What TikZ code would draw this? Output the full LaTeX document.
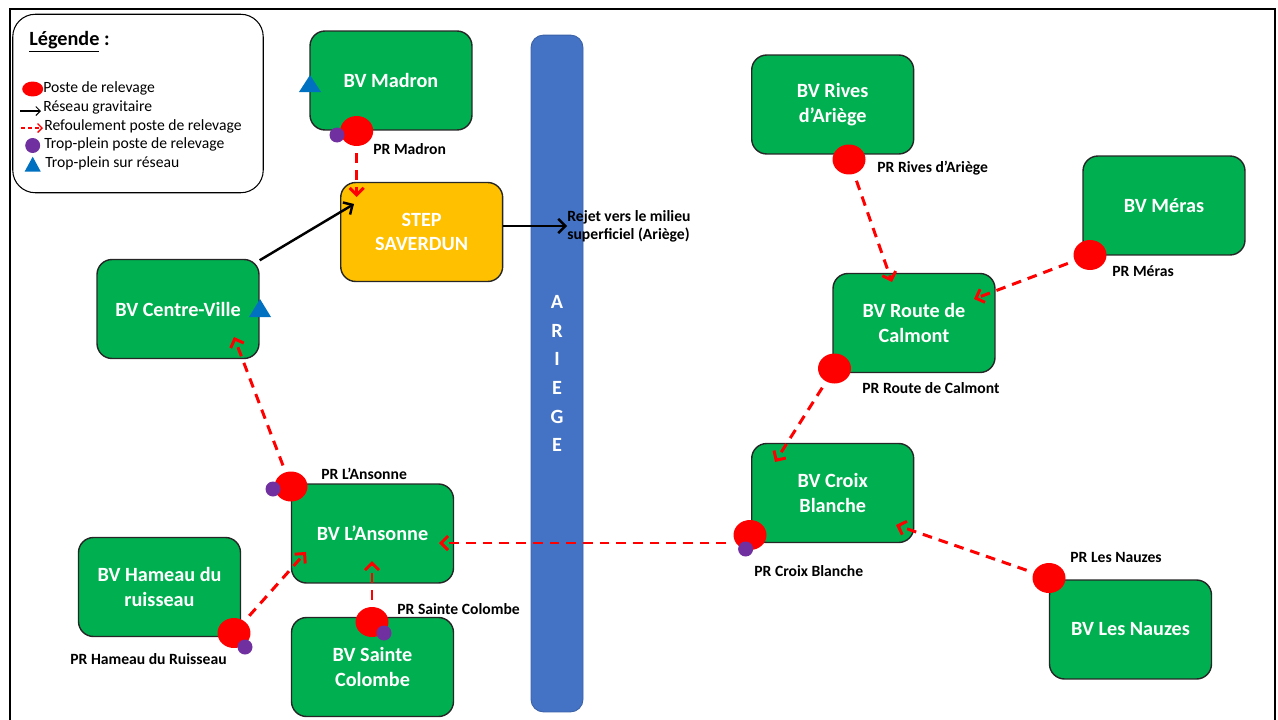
\documentclass[tikz,border=0pt]{standalone}
\usepackage{fontspec}
\setmainfont{Carlito}
\usetikzlibrary{shapes.geometric, arrows.meta}

\definecolor{bvgreen}{HTML}{00B050}
\definecolor{steporange}{HTML}{FFC000}
\definecolor{riverblue}{HTML}{4472C4}
\definecolor{prred}{HTML}{FF0000}
\definecolor{tppurple}{HTML}{7030A0}
\definecolor{tpblue}{HTML}{0070C0}

\newcommand{\bvfont}{\fontsize{11.5}{14}\selectfont\bfseries}
\newcommand{\prfont}{\fontsize{8.9}{10.5}\selectfont\bfseries}
\newcommand{\legfont}{\fontsize{8.9}{10.5}\selectfont}

\begin{document}
\begin{tikzpicture}
	[x=0.02cm, y=-0.02cm,
	bv/.style={rectangle, rounded corners=0.3cm, draw=black!85, line width=0.8pt, fill=bvgreen, text=white, font=\bvfont, align=center, minimum width=3.24cm, minimum height=1.98cm},
	stepBox/.style={bv, fill=steporange},
	river/.style={rectangle, rounded corners=0.25cm, draw=riverblue!85!black, line width=0.5pt, fill=riverblue, text=white, font=\fontsize{11.5}{16.3}\selectfont\bfseries, align=center, minimum width=1.04cm, minimum height=13.54cm},
	pr/.style={ellipse, fill=prred, inner sep=0pt, minimum width=0.66cm, minimum height=0.6cm},
	tp/.style={circle, fill=tppurple, inner sep=0pt, minimum size=0.3cm},
	prLabel/.style={anchor=west, inner sep=0pt, font=\prfont},
	legText/.style={anchor=west, inner sep=0pt, font=\legfont},
	refoul/.style={-{Straight Barb[length=4pt,width=8pt]}, prred, line width=1.7pt, dash pattern=on 5.5pt off 4pt, shorten <=4pt},
	gravit/.style={-{Straight Barb[length=4pt,width=8pt]}, black, line width=1.4pt}]
	
	\useasboundingbox (0,0) rectangle (1278,720);
	\draw[line width=1.2pt] (10,720) -- (10,9) -- (1275,9) -- (1275,720);
	
	% legend
	\node (legend) at ( 138,103.5 ) [rectangle, rounded corners=0.45cm, draw, line width=0.6pt, minimum width=5.01cm, minimum height=3.57cm] {};
	\node (title) at ( 29,42 ) [anchor=west, inner sep=0pt, font=\bvfont] {\underline{Légende} :};
	\node (lpr) at ( 32.7,89 ) [pr, minimum width=0.42cm, minimum height=0.3cm] {};
	\node (ltxt1) at ( 43,88 ) [legText] {Poste de relevage};
	\coordinate (lg1) at ( 20,111 );
	\coordinate (lg2) at ( 41,111 );
	\node (ltxt2) at ( 43,107 ) [legText] {Réseau gravitaire};
	\coordinate (lr1) at ( 21,128 );
	\coordinate (lr2) at ( 43,128 );
	\node (ltxt3) at ( 44,126 ) [legText] {Refoulement poste de relevage};
	\node (ltp) at ( 32.7,145.5 ) [tp] {};
	\node (ltxt4) at ( 44,144 ) [legText] {Trop-plein poste de relevage};
	\fill[tpblue] (32.7,156.7) -- (40.7,171.5) -- (24.7,171.5) -- cycle;
	\node (ltxt5) at ( 45,163 ) [legText] {Trop-plein sur réseau};
	
	\draw[-{Straight Barb[length=2.5pt,width=5pt]}, line width=0.6pt] (lg1) -- (lg2);
	\draw[-{Straight Barb[length=2.5pt,width=5pt]}, prred, line width=0.8pt, dash pattern=on 2.5pt off 1.5pt] (lr1) -- (lr2);
	
	% river
	\node (ariege) at ( 557,373.5 ) [river] {A\\R\\I\\E\\G\\E};
	
	% west bank
	\node (madron) at ( 391,80.5 ) [bv] {BV Madron};
	\node (saverdun) at ( 421.7,232 ) [stepBox] {STEP\\SAVERDUN};
	\node (centre) at ( 178,309 ) [bv] {BV Centre-Ville};
	\node (ansonne) at ( 372.5,533.5 ) [bv] {BV L’Ansonne};
	\node (hameau) at ( 159.5,587 ) [bv] {BV Hameau du\\ruisseau};
	\node (colombe) at ( 372.5,667 ) [bv] {BV Sainte\\Colombe};
	
	\fill[tpblue] (310,75) -- (321,92) -- (299,92) -- cycle;
	\fill[tpblue] (260,299) -- (271,317) -- (249,317) -- cycle;
	
	\node (prmadron) at ( 356.7,131 ) [pr] {};
	\node (tpmadron) at ( 337,135 ) [tp] {};
	\node (prlansonne) at ( 291,486.5 ) [pr] {};
	\node (tplansonne) at ( 273,489 ) [tp] {};
	\node (prhameau) at ( 234,633 ) [pr] {};
	\node (tphameau) at ( 245,647 ) [tp] {};
	\node (prcolombe) at ( 372,622 ) [pr] {};
	\node (tpcolombe) at ( 384,633 ) [tp] {};
	
	\node (lmadron) at ( 373,149 ) [prLabel] {PR Madron};
	\node (llansonne) at ( 321,474 ) [prLabel] {PR L’Ansonne};
	\node (lhameau) at ( 70,659 ) [prLabel] {PR Hameau du Ruisseau};
	\node (lcolombe) at ( 397,609 ) [prLabel] {PR Sainte Colombe};
	\node (rejet) at ( 567,226 ) [anchor=west, inner sep=0pt, align=left, font=\fontsize{8.9}{10.2}\selectfont\bfseries] {Rejet vers le milieu\\superficiel (Ariège)};
	
	% east bank
	\node (rives) at ( 832.7,104.5 ) [bv] {BV Rives\\d’Ariège};
	\node (meras) at ( 1164,205.5 ) [bv] {BV Méras};
	\node (calmont) at ( 914,323 ) [bv] {BV Route de\\Calmont};
	\node (croix) at ( 832.7,493 ) [bv] {BV Croix\\Blanche};
	\node (nauzes) at ( 1130.5,629.5 ) [bv] {BV Les Nauzes};
	
	\node (prrives) at ( 849,159.5 ) [pr] {};
	\node (prmeras) at ( 1090,255 ) [pr] {};
	\node (prcalmont) at ( 834.5,368.5 ) [pr] {};
	\node (prcroix) at ( 750,535 ) [pr] {};
	\node (tpcroix) at ( 745.6,549 ) [tp] {};
	\node (prnauzes) at ( 1049,578 ) [pr] {};
	
	\node (lrives) at ( 877,168 ) [prLabel] {PR Rives d’Ariège};
	\node (lmeras) at ( 1112,271 ) [prLabel] {PR Méras};
	\node (lcalmont) at ( 862,388 ) [prLabel] {PR Route de Calmont};
	\node (lcroix) at ( 754,571 ) [prLabel] {PR Croix Blanche};
	\node (lnauzes) at ( 1070,557 ) [prLabel] {PR Les Nauzes};
	
	% arrow ends inside the boxes
	\coordinate (t1) at ( 356.7,197 );
	\coordinate (t2) at ( 234,337 );
	\coordinate (t3) at ( 306,552 );
	\coordinate (t4) at ( 372,561 );
	\coordinate (t5) at ( 439,543 );
	\coordinate (t6) at ( 896,525 );
	\coordinate (t7) at ( 775,462 );
	\coordinate (t8) at ( 892,282 );
	\coordinate (t9) at ( 974,299 );
	\coordinate (g1) at ( 354,204 );
	
	\draw[gravit] (centre) -- (g1);
	\draw[gravit] (saverdun.east |- rejet.west) -- (rejet.west);
	
	\draw[refoul] (prmadron) -- (t1);
	\draw[refoul] (prlansonne) -- (t2);
	\draw[refoul] (prhameau) -- (t3);
	\draw[refoul] (prcolombe) -- (t4);
	\draw[refoul] (prcroix.west |- t5) -- (t5);
	\draw[refoul] (prnauzes) -- (t6);
	\draw[refoul] (prcalmont) -- (t7);
	\draw[refoul] (prrives) -- (t8);
	\draw[refoul] (prmeras) -- (t9);

\end{tikzpicture}
\end{document}
